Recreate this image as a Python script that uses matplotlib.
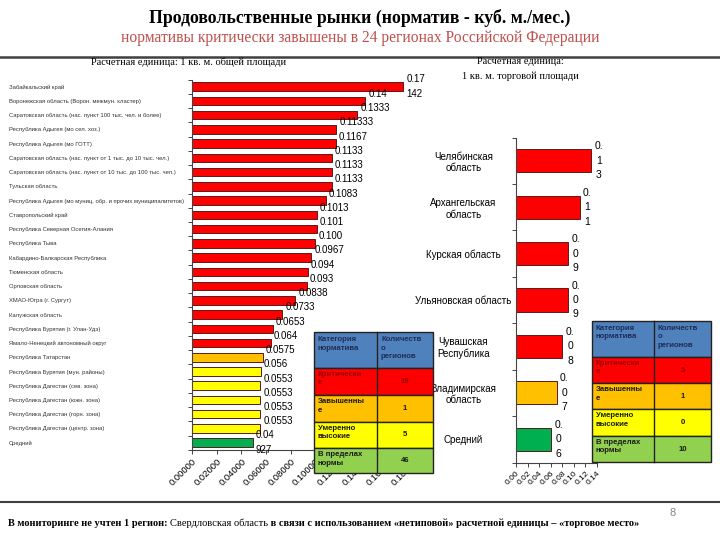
import numpy as np
import matplotlib
matplotlib.use("Agg")
from matplotlib import pyplot as plt
from matplotlib.patches import Rectangle
from matplotlib.ticker import FormatStrFormatter

W, H = 720, 540

# left chart: 1 sq. m of total area
regions_total = [
    "Забайкальский край",
    "Воронежская область (Ворон. межмун. кластер)",
    "Саратовская область (нас. пункт 100 тыс. чел. и более)",
    "Республика Адыгея (мо сел. хоз.)",
    "Республика Адыгея (мо ГОТТ)",
    "Саратовская область (нас. пункт от 1 тыс. до 10 тыс. чел.)",
    "Саратовская область (нас. пункт от 10 тыс. до 100 тыс. чел.)",
    "Тульская область",
    "Республика Адыгея (мо муниц. обр. и прочих муниципалитетов)",
    "Ставропольский край",
    "Республика Северная Осетия-Алания",
    "Республика Тыва",
    "Кабардино-Балкарская Республика",
    "Тюменская область",
    "Орловская область",
    "ХМАО-Югра (г. Сургут)",
    "Калужская область",
    "Республика Бурятия (г. Улан-Удэ)",
    "Ямало-Ненецкий автономный округ",
    "Республика Татарстан",
    "Республика Бурятия (мун. районы)",
    "Республика Дагестан (сев. зона)",
    "Республика Дагестан (южн. зона)",
    "Республика Дагестан (горн. зона)",
    "Республика Дагестан (центр. зона)",
    "Средний",
]
values_total = [0.17142, 0.1407, 0.1340, 0.1170, 0.1167, 0.1133, 0.1133, 0.1133,
                0.1083, 0.1013, 0.1010, 0.1000, 0.0967, 0.0940, 0.0930, 0.0838,
                0.0733, 0.0653, 0.0640, 0.0575, 0.0560, 0.0553, 0.0553, 0.0553,
                0.0553, 0.04927]
labels_total = ["0.17\n142", "0.14", "0.1333", "0.11333", "0.1167", "0.1133",
                "0.1133", "0.1133", "0.1083", "0.1013", "0.101", "0.100",
                "0.0967", "0.094", "0.093", "0.0838", "0.0733", "0.0653",
                "0.064", "0.0575", "0.056", "0.0553", "0.0553", "0.0553",
                "0.0553", "0.04\n927"]
cat_total = ["crit"] * 19 + ["high"] + ["mod"] * 5 + ["norm"]

# right chart: 1 sq. m of trade area
regions_trade = ["Челябинская\nобласть", "Архангельская\nобласть", "Курская область",
                 "Ульяновская область", "Чувашская\nРеспублика",
                 "Владимирская\nобласть", "Средний"]
values_trade = [0.13, 0.11, 0.09, 0.09, 0.08, 0.07, 0.06]
cat_trade = ["crit"] * 5 + ["high", "norm"]

# summary tables
table_header = ["Категория\nнорматива", "Количеств\nо\nрегионов"]
table_cats = ["Критически\nе", "Завышенны\nе", "Умеренно\nвысокие", "В пределах\nнормы"]
counts_total = [19, 1, 5, 46]
counts_trade = [5, 1, 0, 10]

bar_colors = {"crit": "#FF0000", "high": "#FFC000", "mod": "#FFFF00", "norm": "#00B050"}
cell_colors = ["#FF0000", "#FFC000", "#FFFF00", "#92D050"]


def rect(l, t, r, b):
    return [l / W, 1 - b / H, (r - l) / W, (b - t) / H]


fig = plt.figure(figsize=(7.2, 5.4), dpi=100)
fig.patch.set_facecolor("white")

# ---- left chart
ax1 = fig.add_axes(rect(192, 79.6, 413.9, 449.8))
y1 = np.arange(len(values_total))
ax1.barh(y1, values_total, height=0.6, color=[bar_colors[c] for c in cat_total],
         edgecolor="#5a1a1a", linewidth=0.7)
ax1.set_ylim(len(values_total) - 0.5, -0.5)
ax1.set_xlim(0, 0.18)
ax1.set_xticks(np.arange(0, 0.1801, 0.02))
ax1.xaxis.set_major_formatter(FormatStrFormatter("%.5f"))
plt.setp(ax1.get_xticklabels(), rotation=45, ha="right", rotation_mode="anchor",
         fontsize=6.8, family="Liberation Sans")
ax1.tick_params(axis="x", length=3, width=0.7, color="#444444", pad=2)
ax1.set_yticks(y1)
ax1.set_yticklabels(regions_total, fontsize=4.2, ha="left", color="#333333",
                    family="Liberation Sans")
ax1.tick_params(axis="y", which="major", length=0, pad=132)
ax1.set_yticks(np.arange(-0.5, len(values_total), 1.0), minor=True)
ax1.tick_params(axis="y", which="minor", length=3, width=0.7, color="#444444")
for s in ["top", "right"]:
    ax1.spines[s].set_visible(False)
for s in ["left", "bottom"]:
    ax1.spines[s].set_color("#444444")
    ax1.spines[s].set_linewidth(0.8)
for i, (v, lab) in enumerate(zip(values_total, labels_total)):
    if "\n" in lab:
        ax1.text(v + 0.0025, i, lab, fontsize=7, va="center", ha="left",
                 linespacing=1.6, family="Liberation Sans", clip_on=False)
    else:
        ax1.text(v + 0.0025, i - 0.5, lab, fontsize=7, va="center", ha="left",
                 family="Liberation Sans", clip_on=False)

# ---- right chart
ax2 = fig.add_axes(rect(516, 137.5, 597, 462.5))
y2 = np.arange(len(values_trade))
ax2.barh(y2, values_trade, height=0.5, color=[bar_colors[c] for c in cat_trade],
         edgecolor="#5a1a1a", linewidth=0.7)
ax2.set_ylim(len(values_trade) - 0.5, -0.5)
ax2.set_xlim(0, 0.14)
ax2.set_xticks(np.arange(0, 0.1401, 0.02))
ax2.xaxis.set_major_formatter(FormatStrFormatter("%.2f"))
plt.setp(ax2.get_xticklabels(), rotation=45, ha="right", rotation_mode="anchor",
         fontsize=6, family="Liberation Sans")
ax2.tick_params(axis="x", length=3, width=0.7, color="#444444", pad=2)
ax2.set_yticks(y2)
ax2.set_yticklabels(regions_trade, fontsize=7, ha="center", multialignment="center",
                    family="Liberation Sans")
ax2.tick_params(axis="y", which="major", length=0, pad=38)
ax2.set_yticks(np.arange(-0.5, len(values_trade), 1.0), minor=True)
ax2.tick_params(axis="y", which="minor", length=3, width=0.7, color="#444444")
for s in ["top", "right"]:
    ax2.spines[s].set_visible(False)
for s in ["left", "bottom"]:
    ax2.spines[s].set_color("#444444")
    ax2.spines[s].set_linewidth(0.8)
for i, v in enumerate(values_trade):
    s = f"{v:.2f}"
    lab = s[:2] + "\n" + "\n".join(s[2:])
    ax2.text(v + 0.006, i, lab, fontsize=7.5, va="center", ha="left",
             multialignment="center", linespacing=1.55,
             family="Liberation Sans", clip_on=False)

# ---- overlay for titles, lines, tables
ov = fig.add_axes([0, 0, 1, 1], facecolor="none")
ov.set_xlim(0, W)
ov.set_ylim(H, 0)
ov.axis("off")

ov.text(360, 18, "Продовольственные рынки (норматив - куб. м./мес.)",
        ha="center", va="center", fontsize=12.8, fontweight="bold",
        family="Liberation Serif")
ov.text(360, 38, "нормативы критически завышены в 24 регионах Российской Федерации",
        ha="center", va="center", fontsize=11.2, color="#C0504D",
        family="Liberation Serif")
ov.plot([0, W], [57, 57], color="#404040", lw=1.8)
ov.plot([0, W], [502, 502], color="#404040", lw=1.5)

ov.text(189, 62, "Расчетная единица: 1 кв. м. общей площади", ha="center",
        va="center", fontsize=7.5, family="Liberation Serif")
ov.text(520, 62, "Расчетная единица:", ha="center", va="center", fontsize=7.5,
        family="Liberation Serif")
ov.text(520, 76, "1 кв. м. торговой площади", ha="center", va="center",
        fontsize=7.5, family="Liberation Serif")

ov.text(673, 513, "8", ha="center", va="center", fontsize=8, color="#888888",
        family="Liberation Sans")

t1 = ov.text(8, 526, "В мониторинге не учтен 1 регион: ", fontsize=7.5,
             fontweight="bold", family="Liberation Serif", va="baseline")
t2 = ov.annotate("Свердловская область", xy=(1, 0), xycoords=t1, va="bottom",
                 ha="left", fontsize=7.5, family="Liberation Serif")
ov.annotate(" в связи с использованием «нетиповой» расчетной единицы – «торговое место»",
            xy=(1, 0), xycoords=t2, va="bottom", ha="left", fontsize=7.5,
            fontweight="bold", family="Liberation Serif")


def draw_table(x0, xm, x1, row_edges, counts):
    tx = dict(family="Liberation Sans", fontweight="bold", fontsize=5.6)
    top, hb = row_edges[0], row_edges[1]
    ov.add_patch(Rectangle((x0, top), x1 - x0, hb - top, facecolor="#4F81BD",
                           edgecolor="#222222", lw=1.0, zorder=5))
    ov.plot([xm, xm], [top, hb], color="#222222", lw=1.0, zorder=6)
    ov.text(x0 + 4, top + 4, table_header[0], va="top", ha="left",
            color="#1F2D55", zorder=7, linespacing=1.3, **tx)
    ov.text(xm + 4, top + 4, table_header[1], va="top", ha="left",
            color="#1F2D55", zorder=7, linespacing=1.3, **tx)
    for k in range(4):
        a, b = row_edges[k + 1], row_edges[k + 2]
        ov.add_patch(Rectangle((x0, a), x1 - x0, b - a, facecolor=cell_colors[k],
                               edgecolor="#222222", lw=1.0, zorder=5))
        ov.plot([xm, xm], [a, b], color="#222222", lw=1.0, zorder=6)
        tc = "#990000" if k == 0 else "#1a1a1a"
        ov.text(x0 + 4, a + 3, table_cats[k], va="top", ha="left", color=tc,
                zorder=7, linespacing=1.3, **tx)
        ov.text((xm + x1) / 2, (a + b) / 2, str(counts[k]), va="center",
                ha="center", color=tc, zorder=7, **tx)


draw_table(314, 377, 433, [332, 368, 395, 421.7, 448.3, 473], counts_total)
draw_table(592, 654, 711, [320.7, 356.7, 383.3, 409.3, 436, 462.3], counts_trade)

fig.savefig("out.png", dpi=100)
